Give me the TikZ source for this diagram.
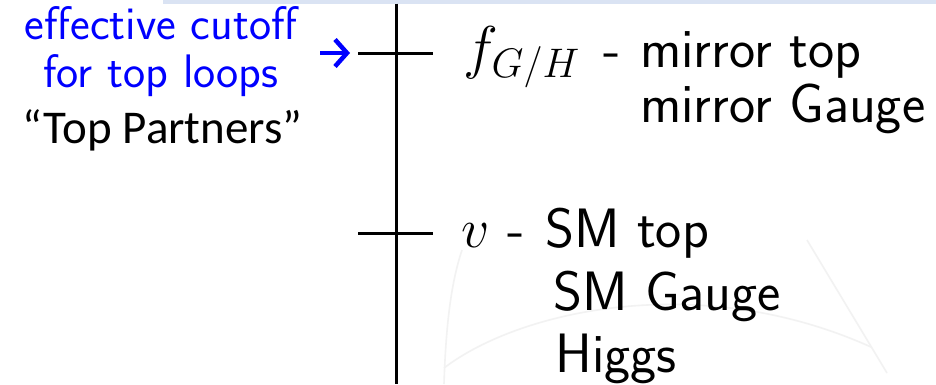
\documentclass[tikz,border=0pt]{standalone}
\usepackage{fix-cm}
\usepackage{fontspec}
\newfontfamily\carlito{Carlito}
\usetikzlibrary{arrows.meta}
\definecolor{barblue}{RGB}{218,227,243}
\definecolor{cutblue}{RGB}{0,0,255}
\definecolor{wmgray}{RGB}{242,242,242}
\tikzset{
  axisline/.style={line width=3pt, black},
  tickline/.style={line width=3pt, black},
  bigtext/.style={inner sep=0pt, anchor=base west, font=\sffamily\fontsize{55.5}{55.5}\selectfont},
  mathtext/.style={inner sep=0pt, anchor=base west, font=\fontsize{59}{59}\selectfont},
  bluetext/.style={inner sep=0pt, anchor=base, text=cutblue, font=\sffamily\fontsize{47}{47}\selectfont},
  partnertext/.style={inner sep=0pt, anchor=base west, font=\carlito\fontsize{47}{47}\selectfont},
  cutarrow/.style={draw=cutblue, line width=4.5pt, -{Straight Barb[length=12pt,width=27pt,line width=4.5pt]}},
  watermark/.style={draw=wmgray, line width=1.6pt}
}
\begin{document}
\begin{tikzpicture}[x=1pt,y=-1pt]
\useasboundingbox (0,0) rectangle (936,384);
\fill[white] (0,0) rectangle (936,384);
% faint watermark
\draw[watermark] (444,384) .. controls (446,320) and (452,280) .. (462,250);
\draw[watermark] (444,368) .. controls (520,310) and (700,270) .. (871,347);
\draw[watermark] (807,240) -- (887,373);
% top bar
\fill[barblue] (163,0) rectangle (936,3.5);
% axis
\coordinate (axtop) at (396,3.5);
\coordinate (axbot) at (396,384);
\draw[axisline] (axtop) -- (axbot);
\coordinate (t1l) at (358,53);
\coordinate (t1r) at (433,53);
\coordinate (t2l) at (358,233);
\coordinate (t2r) at (433,233);
\draw[tickline] (t1l) -- (t1r);
\draw[tickline] (t2l) -- (t2r);
% arrow
\coordinate (arrs) at (320,53);
\coordinate (arre) at (350,53);
\draw[cutarrow] (arrs) -- (arre);
% left texts
\node[bluetext] (eff) at (161,39) {effective cutoff};
\node[bluetext] (loops) at (161,87) {for top loops};
\node[partnertext] (tp) at (22,143) {“Top Partners”};
% right texts, upper group
\node[mathtext] (fgh) at (463,67) {$f_{G/H}$};
\node[bigtext] (dash1) at (603,67) {-};
\node[bigtext] (mtop) at (640,67) {mirror top};
\node[bigtext] (mgauge) at (640,122) {mirror Gauge};
% lower group
\node[bigtext] (vv) at (461,247) {$v$};
\node[bigtext] (dash2) at (507,247) {-};
\node[bigtext] (smtop) at (545,247) {SM top};
\node[bigtext] (smgauge) at (553,310) {SM Gauge};
\node[bigtext] (higgs) at (555,372) {Higgs};
\end{tikzpicture}
\end{document}
